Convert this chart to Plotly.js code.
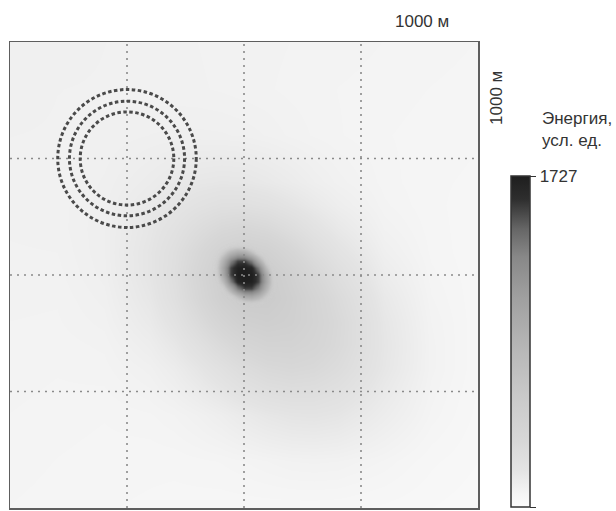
<!DOCTYPE html>
<html>
<head>
<meta charset="utf-8">
<script src="https://cdn.plot.ly/plotly-3.0.1.min.js"></script>
<style>
  html, body { margin: 0; padding: 0; background: #ffffff; }
  #chart { width: 616px; height: 511px; }
</style>
</head>
<body>
<div id="chart"></div>
<script>
// ---- data ----
const xHalo = [0, 100, 200, 300, 350, 400, 450, 500, 550, 600, 650, 700, 800, 900, 1000];
const yHalo = [0, 100, 200, 300, 350, 400, 450, 500, 550, 600, 650, 700, 800, 900, 1000];
// energy field, rows follow yHalo (bottom to top)
const zHalo = [
  [125, 122, 118, 115, 113, 112, 111, 111, 111, 111, 111, 110, 105,  98,  91],
  [129, 125, 122, 120, 120, 123, 126, 132, 139, 146, 148, 146, 131, 110,  98],
  [132, 129, 126, 131, 139, 153, 173, 199, 222, 237, 241, 230, 179, 130, 104],
  [136, 133, 136, 157, 184, 226, 278, 331, 370, 386, 372, 332, 223, 142, 109],
  [137, 135, 141, 177, 218, 277, 350, 415, 453, 454, 422, 364, 229, 142, 109],
  [139, 138, 149, 200, 255, 337, 433, 509, 531, 505, 444, 371, 223, 139, 110],
  [141, 140, 156, 219, 288, 390, 511, 592, 589, 520, 434, 348, 207, 133, 110],
  [143, 143, 163, 232, 302, 410, 535, 610, 582, 489, 390, 307, 184, 128, 110],
  [145, 146, 166, 233, 294, 379, 476, 526, 493, 409, 325, 256, 162, 123, 110],
  [147, 149, 166, 223, 266, 322, 373, 396, 370, 315, 256, 209, 145, 121, 111],
  [149, 149, 164, 204, 234, 262, 285, 288, 271, 237, 203, 172, 134, 119, 113],
  [150, 150, 161, 186, 202, 217, 224, 221, 207, 188, 167, 150, 129, 119, 115],
  [153, 152, 154, 160, 162, 162, 161, 158, 152, 144, 138, 133, 126, 122, 118],
  [157, 153, 152, 149, 148, 147, 145, 142, 140, 137, 135, 132, 129, 125, 122],
  [160, 157, 153, 150, 148, 146, 144, 143, 141, 139, 137, 136, 132, 129, 125]
];
// the source itself, finer sampling
const xCore = [425, 440, 455, 470, 485, 500, 515, 530, 545, 560, 575];
const yCore = [425, 440, 455, 470, 485, 500, 515, 530, 545, 560, 575];
const zCore = [
  [300, 300, 300, 311, 344, 376, 399, 386, 357, 317, 300],
  [300, 300, 322, 399, 509, 608, 638, 599, 490, 381, 317],
  [300, 322, 430, 616, 843, 1039, 1072, 935, 710, 490, 357],
  [311, 399, 616, 965, 1354, 1552, 1545, 1329, 935, 599, 386],
  [344, 509, 843, 1354, 1671, 1717, 1704, 1545, 1072, 638, 399],
  [376, 608, 1039, 1552, 1717, 1727, 1717, 1552, 1039, 608, 376],
  [399, 638, 1072, 1545, 1704, 1717, 1671, 1354, 843, 509, 344],
  [386, 599, 935, 1329, 1545, 1552, 1354, 965, 616, 399, 311],
  [357, 490, 710, 935, 1072, 1039, 843, 616, 430, 322, 300],
  [317, 381, 490, 599, 638, 608, 509, 399, 322, 300, 300],
  [300, 317, 357, 386, 399, 376, 344, 311, 300, 300, 300]
];
const zMin = 55;
const zMax = 1727;
const cbTickVals = [55, 1727];
const cbTickText = ['55', '1727'];
const gridX = [250, 500, 750];
const gridY = [250, 500, 750];
const ringCenter = [250, 750];
const ringRadii = [148, 123, 100];
const scaleLabel = '1000 м';
const cbTitle = 'Энергия,<br>усл. ед.';

// ---- style ----
const FONT = 'Liberation Sans, Arial, sans-serif';
const TXT = '#333333';
const greys = [
  [0.00, '#fcfcfc'], [0.04, '#f5f5f5'], [0.11, '#e4e4e4'], [0.20, '#d7d7d7'],
  [0.31, '#cccccc'], [0.47, '#b8b8b8'], [0.63, '#a0a0a0'], [0.755, '#888888'],
  [0.84, '#666666'], [0.93, '#2e2e2e'], [1.00, '#1e1e1e']
];
// same greys, but fading to transparent below the halo level
const greysCore = [
  [0.00, 'rgba(211,211,211,0)'], [0.25, 'rgba(211,211,211,0)'],
  [0.40, 'rgba(196,196,196,1)'], [0.47, '#b8b8b8'], [0.63, '#a0a0a0'],
  [0.755, '#888888'], [0.84, '#666666'], [0.93, '#2e2e2e'], [1.00, '#1e1e1e']
];

const traces = [
  {
    type: 'heatmap', x: xHalo, y: yHalo, z: zHalo,
    zmin: zMin, zmax: zMax, colorscale: greys, zsmooth: 'best',
    hoverinfo: 'skip', showscale: true,
    colorbar: {
      thickness: 19, thicknessmode: 'pixels',
      len: 0.71, lenmode: 'fraction',
      x: 1.0705, xanchor: 'left', xpad: 0,
      y: 0.002, yanchor: 'bottom', ypad: 0,
      outlinewidth: 1.5, outlinecolor: '#333333',
      tickmode: 'array', tickvals: cbTickVals, ticktext: cbTickText,
      ticks: 'outside', ticklen: 6, tickwidth: 1, tickcolor: '#333333',
      tickfont: { family: FONT, size: 17, color: TXT }
    }
  },
  {
    type: 'heatmap', x: xCore, y: yCore, z: zCore,
    zmin: zMin, zmax: zMax, colorscale: greysCore, zsmooth: 'best',
    hoverinfo: 'skip', showscale: false
  }
];

const shapes = [];
gridX.forEach(v => shapes.push({
  type: 'line', xref: 'x', yref: 'paper', x0: v, x1: v, y0: 0, y1: 1,
  layer: 'above', line: { color: '#8a8a8a', width: 1.6, dash: '2px,5px' }
}));
gridY.forEach(v => shapes.push({
  type: 'line', xref: 'paper', yref: 'y', x0: 0, x1: 1, y0: v, y1: v,
  layer: 'above', line: { color: '#8a8a8a', width: 1.6, dash: '2px,5px' }
}));
ringRadii.forEach(r => shapes.push({
  type: 'circle', xref: 'x', yref: 'y',
  x0: ringCenter[0] - r, x1: ringCenter[0] + r,
  y0: ringCenter[1] - r, y1: ringCenter[1] + r,
  layer: 'above', line: { color: '#4a4a4a', width: 3, dash: '3.5px,2.5px' }
}));

const layout = {
  width: 616, height: 511,
  margin: { l: 10, r: 138, t: 42, b: 3, pad: 0 },
  paper_bgcolor: '#ffffff', plot_bgcolor: '#ffffff',
  font: { family: FONT, color: TXT, size: 17 },
  showlegend: false,
  xaxis: {
    range: [0, 1000], showgrid: false, zeroline: false, showticklabels: false,
    ticks: '', showline: true, mirror: true, linecolor: '#5e5e5e', linewidth: 1.5
  },
  yaxis: {
    range: [0, 1000], showgrid: false, zeroline: false, showticklabels: false,
    ticks: '', showline: true, mirror: true, linecolor: '#5e5e5e', linewidth: 1.5
  },
  shapes: shapes,
  annotations: [
    { text: scaleLabel, xref: 'paper', yref: 'paper', x: 0.880, y: 1.045,
      xanchor: 'center', yanchor: 'middle', showarrow: false,
      font: { family: FONT, size: 17, color: TXT } },
    { text: scaleLabel, xref: 'paper', yref: 'paper', x: 1.0406, y: 0.880,
      xanchor: 'center', yanchor: 'middle', showarrow: false, textangle: -90,
      font: { family: FONT, size: 17, color: TXT } },
    { text: cbTitle, xref: 'paper', yref: 'paper', x: 1.1325, y: 0.813,
      xanchor: 'left', yanchor: 'middle', align: 'left', showarrow: false,
      font: { family: FONT, size: 17, color: TXT } }
  ]
};

Plotly.newPlot('chart', traces, layout, { displayModeBar: false, staticPlot: true });
</script>
</body>
</html>
